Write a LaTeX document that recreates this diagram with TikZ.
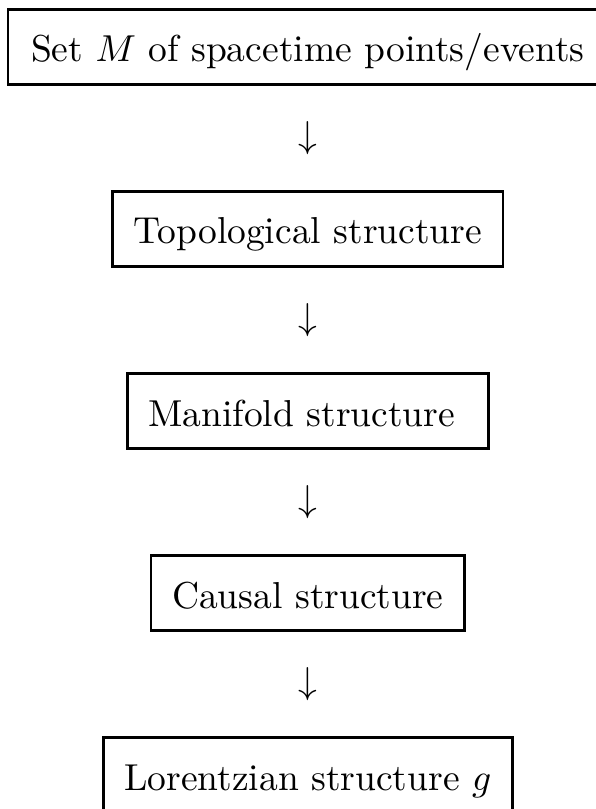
\documentclass[tikz,border=0pt]{standalone}
\usepackage{mathtools}
\usepackage{tikz}
\begin{document}
\begin{tikzpicture}[level distance=24.27pt,
  edge from parent/.style={draw=none},
  struct/.style={rectangle,draw,line width=0.7pt,inner xsep=5.6pt,inner ysep=6pt,
    text height=8pt,text depth=0pt},
  arr/.style={inner sep=0pt}]
\useasboundingbox (0,0) rectangle (158.67pt,215.73pt);
\node [struct,inner xsep=6.2pt] (set) at (82.1pt,203.2pt) {Set $M$ of spacetime points/events}
  child {node[arr] (a1) {$\downarrow$}
    child {node[struct] (top) {Topological structure}
      child {node[arr] (a2) {$\downarrow$}
        child {node[struct] (man) {Manifold structure\ \null}
          child {node[arr] (a3) {$\downarrow$}
            child {node[struct] (caus) {Causal structure}
              child {node[arr] (a4) {$\downarrow$}
                child {node[struct] (lor) {Lorentzian structure $g$}}}}}}}}}

;
\end{tikzpicture}
\end{document}
